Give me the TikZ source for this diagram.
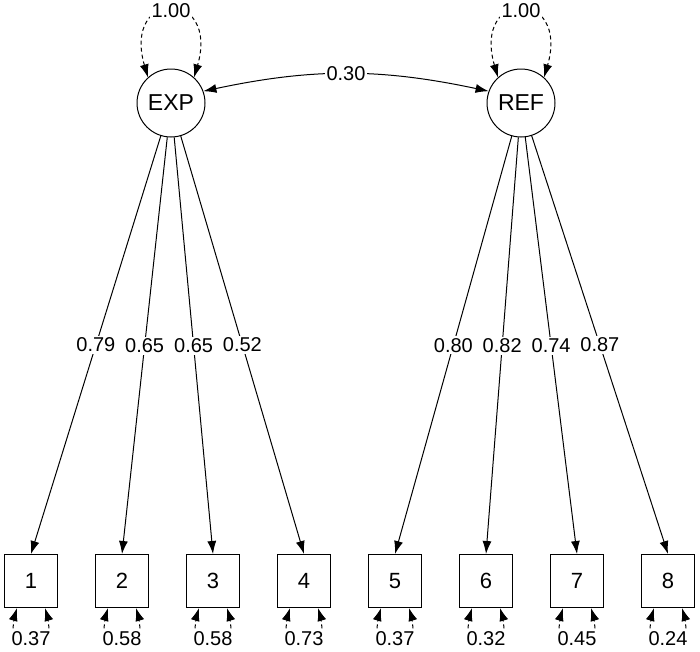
\documentclass[tikz,border=0pt]{standalone}
\usepackage{fontspec}
\setmainfont{Liberation Sans}
\usetikzlibrary{arrows.meta}
\begin{document}
\begin{tikzpicture}[x=1pt,y=-1pt,line width=1pt,
  lat/.style={draw,circle,minimum size=68pt,inner sep=0pt,font=\fontsize{23}{26}\selectfont},
  obs/.style={draw,minimum size=53pt,inner sep=0pt,font=\fontsize{22}{26}\selectfont},
  lab/.style={fill=white,inner sep=2pt,font=\fontsize{20}{24}\selectfont},
  arr/.style={-{Latex[length=13pt,width=9pt]}},
  arrs/.style={{Latex[length=13pt,width=9pt]}-{Latex[length=13pt,width=9pt]}},
  dsh/.style={dash pattern=on 4pt off 3pt}]
\useasboundingbox (0,0) rectangle (700,651);
\node[lat] (EXP) at (171,103) {EXP};
\node[lat] (REF) at (521,103) {REF};
\foreach \i in {1,...,8}
  \node[obs] (x\i) at ({31+91*(\i-1)},581) {\i};
\draw[arrs,dsh] (EXP.132) .. controls (122,-12) and (220,-12) .. node[lab] {1.00} (EXP.48);
\draw[arrs,dsh] (REF.132) .. controls (472,-12) and (570,-12) .. node[lab] {1.00} (REF.48);
\draw[arrs] (EXP.20) to[bend left=12] node[lab] {0.30} (REF.160);
\foreach \i/\v in {1/0.79,2/0.65,3/0.65,4/0.52}
  \draw[arr] (EXP) -- node[lab] {\v} (x\i.north);
\foreach \i/\v in {5/0.80,6/0.82,7/0.74,8/0.87}
  \draw[arr] (REF) -- node[lab] {\v} (x\i.north);
\foreach \i/\v in {1/0.37,2/0.58,3/0.58,4/0.73,5/0.37,6/0.32,7/0.45,8/0.24}{
  \node[lab] (e\i) at ({31+91*(\i-1)},639) {\v};
  \draw[arr,dsh] ([xshift=-18pt,yshift=1pt]e\i.north) to[bend left=6] ([xshift=-14pt]x\i.south);
  \draw[arr,dsh] ([xshift=18pt,yshift=1pt]e\i.north) to[bend right=6] ([xshift=14pt]x\i.south);
}
\end{tikzpicture}
\end{document}
